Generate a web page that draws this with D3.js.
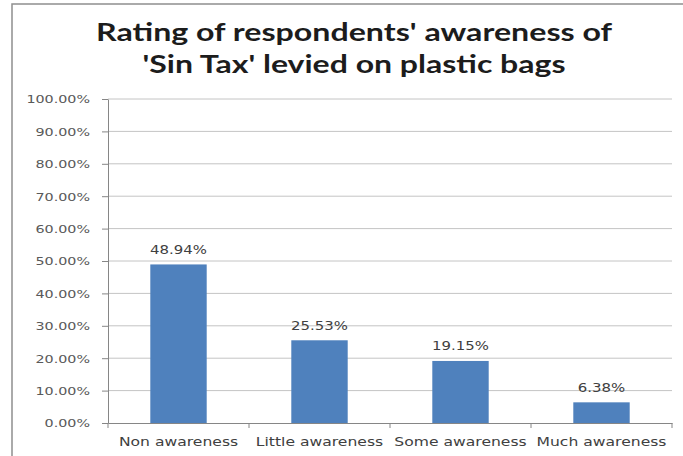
<!DOCTYPE html>
<html>
<head>
<meta charset="utf-8">
<script src="https://cdn.jsdelivr.net/npm/d3@7"></script>
<style>
  html, body { margin: 0; padding: 0; background: #fff; overflow: hidden; }
  svg { display: block; }
  svg text { font-family: "DejaVu Sans", Verdana, sans-serif; }
</style>
</head>
<body>
<svg id="chart" width="683" height="456"></svg>
<script>
// Survey results: share of respondents per awareness level
const categories = ["Non awareness", "Little awareness", "Some awareness", "Much awareness"];
const shares = [48.94, 25.53, 19.15, 6.38];
const yTicks = [0, 10, 20, 30, 40, 50, 60, 70, 80, 90, 100];
const titleLines = ["Rating of respondents' awareness of", "'Sin Tax' levied on plastic bags"];

const W = 683, H = 456;
const plot = { left: 108, right: 672, top: 99, bottom: 423 };
const stretch = 1.3;           // wide, squat label lettering
const barColor = "#4f81bd";
const axisColor = "#868686";
const gridColor = "#c4c4c4";
const labelColor = "#595959";

const svg = d3.select("#chart");

// chart frame (left and top edges only fall inside the view)
svg.append("rect")
  .attr("x", 12).attr("y", 4)
  .attr("width", W + 20).attr("height", H + 20)
  .attr("fill", "#fff")
  .attr("stroke", "#8f8f8f")
  .attr("stroke-width", 1.5);

// title
const titleWidths = [516, 423];
svg.append("g").selectAll("text")
  .data(titleLines)
  .join("text")
  .attr("x", 354)
  .attr("y", (d, i) => 41 + i * 32)
  .attr("text-anchor", "middle")
  .attr("textLength", (d, i) => titleWidths[i])
  .attr("lengthAdjust", "spacingAndGlyphs")
  .style("font-family", "Lato, 'Open Sans', sans-serif")
  .style("font-weight", "700")
  .style("font-size", "24px")
  .attr("fill", "#1c1c1c")
  .text(d => d);

// scales
const x = d3.scaleBand()
  .domain(categories)
  .range([plot.left, plot.right])
  .paddingInner(0.6)
  .paddingOuter(0.3);

const y = d3.scaleLinear()
  .domain([0, 100])
  .range([plot.bottom, plot.top]);

// horizontal gridlines
svg.append("g").selectAll("line")
  .data(yTicks.filter(t => t > 0))
  .join("line")
  .attr("x1", plot.left).attr("x2", plot.right)
  .attr("y1", d => y(d)).attr("y2", d => y(d))
  .attr("stroke", gridColor)
  .attr("stroke-width", 1);

// y axis
const yAxis = svg.append("g")
  .attr("transform", `translate(${plot.left},0)`)
  .call(d3.axisLeft(y)
    .tickValues(yTicks)
    .tickSize(6)
    .tickSizeOuter(0)
    .tickFormat(d => d.toFixed(2) + "%"));
yAxis.select(".domain").attr("stroke", axisColor);
yAxis.selectAll(".tick line").attr("stroke", axisColor);
yAxis.selectAll(".tick text")
  .attr("x", 0)
  .attr("dy", "0.35em")
  .attr("transform", `translate(-18,0) scale(${stretch},1)`)
  .attr("fill", labelColor)
  .style("font-size", "11px");

// bars
svg.append("g").selectAll("rect")
  .data(shares)
  .join("rect")
  .attr("x", (d, i) => x(categories[i]))
  .attr("y", d => y(d))
  .attr("width", x.bandwidth())
  .attr("height", d => y(0) - y(d))
  .attr("fill", barColor);

// value labels
svg.append("g").selectAll("text")
  .data(shares)
  .join("text")
  .attr("transform", (d, i) =>
    `translate(${x(categories[i]) + x.bandwidth() / 2},${y(d) - 10.5}) scale(${stretch},1)`)
  .attr("text-anchor", "middle")
  .attr("fill", "#404040")
  .style("font-size", "11.5px")
  .text(d => d.toFixed(2) + "%");

// x axis with category labels
const xAxis = svg.append("g")
  .attr("transform", `translate(0,${plot.bottom})`)
  .call(d3.axisBottom(x).tickSize(0).tickPadding(0).tickSizeOuter(0));
xAxis.select(".domain").attr("stroke", axisColor);
xAxis.selectAll(".tick text")
  .attr("y", 0)
  .attr("dy", null)
  .attr("transform", `translate(0,23) scale(${stretch},1)`)
  .attr("fill", "#404040")
  .style("font-size", "12px");

// category boundary tick marks
const step = x.step();
const boundaries = d3.range(categories.length + 1)
  .map(i => x(categories[0]) - step * x.paddingOuter() + i * step);
xAxis.append("g").selectAll("line")
  .data(boundaries)
  .join("line")
  .attr("x1", d => d).attr("x2", d => d)
  .attr("y1", 0).attr("y2", 5)
  .attr("stroke", axisColor);
</script>
</body>
</html>
